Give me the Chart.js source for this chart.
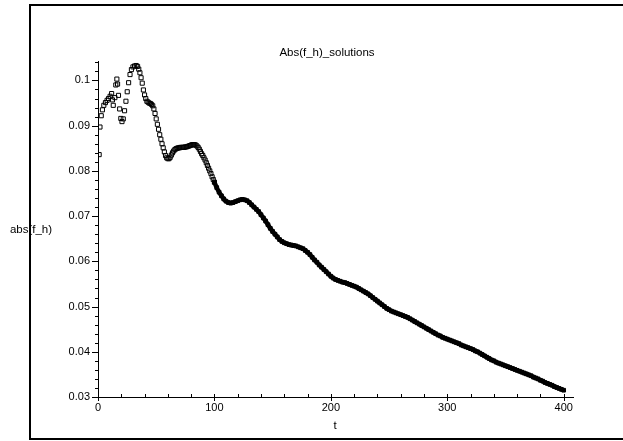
<!DOCTYPE html>
<html>
<head>
<meta charset="utf-8">
<script src="https://cdn.jsdelivr.net/npm/chart.js@4.4.1/dist/chart.umd.min.js"></script>
<style>
  html, body { margin: 0; padding: 0; background: #fff; overflow: hidden; }
  #wrap { position: relative; width: 623px; height: 441px; overflow: hidden; }
  #frame {
    position: absolute; left: 29px; top: 4px; width: 700px; height: 432px;
    border: 2px solid #000; pointer-events: none;
  }
  canvas { display: block; }
</style>
</head>
<body>
<div id="wrap">
  <canvas id="plot" width="623" height="441"></canvas>
  <div id="frame"></div>
</div>
<script>
// Text
const titleText = 'Abs(f_h)_solutions';
const xTitle = 't';
const yTitle = 'abs(f_h)';

// Tick labels
const xTicks = [0, 100, 200, 300, 400];
const yTicks = [0.03, 0.04, 0.05, 0.06, 0.07, 0.08, 0.09, 0.1];

// Scattered start of the solution (t, value pairs)
const earlyT = [1, 1.7, 2.8, 3.8, 5, 6.4, 7.8, 9.1, 10.4, 11.7,
    12.4, 13.1, 14.5, 15.3, 16.2, 16.8, 17.6, 18.6, 19.6, 20.6,
    21.7, 22.8, 24, 25.1, 26.3, 27.5, 28.7, 30, 31.4, 32.8,
    34, 35];
const earlyAbs = [0.0836, 0.0897, 0.0922, 0.0935, 0.0945, 0.0951, 0.0956, 0.0960, 0.0965, 0.0971,
    0.0957, 0.0945, 0.0962, 0.0990, 0.1003, 0.0992, 0.0967, 0.0937, 0.0916, 0.0909,
    0.0915, 0.0933, 0.0954, 0.0975, 0.0995, 0.1013, 0.1024, 0.1030, 0.1032, 0.1033,
    0.1031, 0.1025];

// t = 36 .. 100, step 1
const midStart = 36;
const midStep = 1;
const midAbs = [
    0.1017, 0.1006, 0.0994, 0.0979, 0.0968, 0.0960, 0.0954, 0.0952, 0.0950, 0.0949,
    0.0947, 0.0944, 0.0937, 0.0927, 0.0915, 0.0903, 0.0892, 0.0880, 0.0870, 0.0860,
    0.0851, 0.0842, 0.0834, 0.0829, 0.0827, 0.0827, 0.0830, 0.0835, 0.0840, 0.0844,
    0.0847, 0.0849, 0.0850, 0.0851, 0.0851, 0.0852, 0.0852, 0.0852, 0.0852, 0.0853,
    0.0853, 0.0854, 0.0855, 0.0856, 0.0857, 0.0858, 0.0858, 0.0858, 0.0857, 0.0855,
    0.0852, 0.0848, 0.0843, 0.0838, 0.0834, 0.0829, 0.0824, 0.0818, 0.0812, 0.0806,
    0.0800, 0.0794, 0.0787, 0.0781, 0.0775
];

// t = 102 .. 400, step 2
const lateStart = 102;
const lateStep = 2;
const lateAbs = [
    0.0763, 0.0753, 0.0745, 0.0738, 0.0733, 0.0730, 0.0729, 0.0730, 0.0732, 0.0734,
    0.0736, 0.0737, 0.0736, 0.0734, 0.0730, 0.0725, 0.0720, 0.0715, 0.0710, 0.0703,
    0.0696, 0.0689, 0.0681, 0.0673, 0.0666, 0.0660, 0.0654, 0.0648, 0.0644, 0.0641,
    0.0639, 0.0637, 0.0636, 0.0635, 0.0634, 0.0632, 0.0630, 0.0628, 0.0624, 0.0620,
    0.0615, 0.0609, 0.0603, 0.0598, 0.0592, 0.0587, 0.0582, 0.0577, 0.0572, 0.0567,
    0.0563, 0.0560, 0.0558, 0.0556, 0.0554, 0.0553, 0.0551, 0.0549, 0.0547, 0.0545,
    0.0543, 0.0540, 0.0537, 0.0534, 0.0531, 0.0528, 0.0524, 0.0520, 0.0516, 0.0512,
    0.0508, 0.0504, 0.0500, 0.0496, 0.0493, 0.0490, 0.0488, 0.0486, 0.0484, 0.0482,
    0.0480, 0.0478, 0.0476, 0.0473, 0.0470, 0.0467, 0.0464, 0.0461, 0.0458, 0.0455,
    0.0452, 0.0449, 0.0446, 0.0443, 0.0440, 0.0437, 0.0435, 0.0432, 0.0430, 0.0428,
    0.0426, 0.0424, 0.0422, 0.0420, 0.0418, 0.0415, 0.0413, 0.0411, 0.0409, 0.0407,
    0.0405, 0.0402, 0.0400, 0.0397, 0.0394, 0.0391, 0.0388, 0.0385, 0.0382, 0.0380,
    0.0377, 0.0375, 0.0373, 0.0371, 0.0369, 0.0367, 0.0365, 0.0363, 0.0361, 0.0359,
    0.0357, 0.0355, 0.0353, 0.0351, 0.0349, 0.0347, 0.0344, 0.0342, 0.0340, 0.0337,
    0.0335, 0.0332, 0.0330, 0.0328, 0.0326, 0.0323, 0.0321, 0.0319, 0.0317, 0.0315
];

// Axis ranges and minor tick spacing
const xMin = 0, xMax = 408, xMinor = 20;
const yMin = 0.03, yMax = 0.1043, yMinor = 0.002;

// Build the point lists
const openPoints = [];
earlyT.forEach((t, i) => openPoints.push({ x: t, y: earlyAbs[i] }));
midAbs.forEach((v, i) => openPoints.push({ x: midStart + i * midStep, y: v }));
const densePoints = [openPoints[openPoints.length - 1]]
    .concat(lateAbs.map((v, i) => ({ x: lateStart + i * lateStep, y: v })));

const FONT = 'Liberation Sans, Arial, sans-serif';

// Maple style tick marks and the three titles
const decorations = {
    id: 'decorations',
    afterDraw(chart) {
        const c = chart.ctx;
        const xs = chart.scales.x;
        const ys = chart.scales.y;
        const left = chart.chartArea.left;
        const bottom = chart.chartArea.bottom;
        c.save();
        c.strokeStyle = '#000';
        c.lineWidth = 1;
        c.beginPath();
        for (let t = xMin; t <= xMax; t += xMinor) {
            const px = Math.round(xs.getPixelForValue(t)) + 0.5;
            const major = xTicks.includes(t);
            c.moveTo(px, bottom - 3);
            c.lineTo(px, bottom + (major ? 4 : 0));
        }
        for (let i = 0; yMin + i * yMinor <= yMax; i++) {
            const py = Math.round(ys.getPixelForValue(yMin + i * yMinor)) + 0.5;
            const major = i % 5 === 0;
            c.moveTo(left, py);
            c.lineTo(left - (major ? 6 : 3), py);
        }
        c.stroke();

        c.fillStyle = '#000';
        c.font = '11.5px ' + FONT;
        c.textAlign = 'center';
        c.textBaseline = 'middle';
        c.fillText(titleText, 327, 53);
        c.fillText(yTitle, 31, 230);
        c.fillText(xTitle, 335, 426);
        c.restore();
    }
};

const ctx = document.getElementById('plot').getContext('2d');

const chart = new Chart(ctx, {
    type: 'scatter',
    data: {
        datasets: [{
            data: openPoints,
            showLine: false,
            pointStyle: 'rect',
            pointRadius: 2.9,
            pointBorderWidth: 1,
            pointBorderColor: '#000',
            pointBackgroundColor: 'rgba(255,255,255,0)'
        }, {
            // the squares overlap into a solid band here
            data: densePoints,
            showLine: true,
            borderColor: '#000',
            borderWidth: 4.5,
            cubicInterpolationMode: 'monotone',
            pointStyle: 'rect',
            pointRadius: 2.6,
            pointBorderWidth: 1,
            pointBorderColor: '#000',
            pointBackgroundColor: '#000'
        }]
    },
    options: {
        responsive: false,
        animation: false,
        devicePixelRatio: 1,
        layout: { padding: { top: 61, right: 50, bottom: 0, left: 0 } },
        plugins: {
            legend: { display: false },
            tooltip: { enabled: false },
            title: { display: false }
        },
        scales: {
            x: {
                type: 'linear',
                min: xMin,
                max: xMax,
                afterFit: (s) => { s.height = 44; },
                afterBuildTicks: (s) => { s.ticks = xTicks.map(v => ({ value: v })); },
                grid: { display: false, drawTicks: true, tickLength: 3 },
                border: { display: true, color: '#000', width: 1 },
                ticks: {
                    autoSkip: false,
                    maxRotation: 0,
                    padding: 1,
                    color: '#000',
                    font: { family: FONT, size: 11 }
                }
            },
            y: {
                type: 'linear',
                min: yMin,
                max: yMax,
                afterFit: (s) => { s.width = 98; },
                afterBuildTicks: (s) => { s.ticks = yTicks.map(v => ({ value: v })); },
                grid: { display: false, drawTicks: true, tickLength: 6 },
                border: { display: true, color: '#000', width: 1 },
                ticks: {
                    autoSkip: false,
                    padding: 2,
                    color: '#000',
                    font: { family: FONT, size: 11 },
                    callback: function(value) {
                        return String(Math.round(value * 100) / 100);
                    }
                }
            }
        }
    },
    plugins: [decorations]
});
</script>
</body>
</html>
